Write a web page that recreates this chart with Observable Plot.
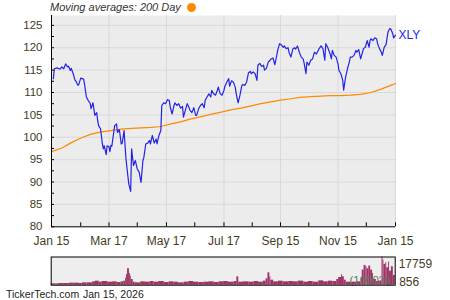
<!DOCTYPE html>
<html>
<head>
<meta charset="utf-8">
<script src="https://cdn.jsdelivr.net/npm/d3@7"></script>
<script src="https://cdn.jsdelivr.net/npm/@observablehq/plot@0.6"></script>
<style>
  html, body { margin: 0; padding: 0; background: #fff; }
  #wrap { position: relative; width: 450px; height: 300px; overflow: hidden; font-family: "Liberation Sans", Arial, sans-serif; }
  #main { position: absolute; left: 0; top: 0; }
  #vol { position: absolute; left: 0; top: 252px; }
  #legend { position: absolute; left: 50px; top: 1px; font-size: 11px; line-height: 13px; font-style: italic; color: #333; white-space: nowrap; }
  #dot { position: absolute; left: 187px; top: 3px; width: 9px; height: 9px; border-radius: 50%; background: #ff8a00; }
  .foot { position: absolute; top: 288px; font-size: 10.5px; line-height: 12px; color: #222; white-space: nowrap; }
</style>
</head>
<body>
<div id="wrap">
  <div id="main"></div>
  <div id="vol"></div>
  <div id="legend"></div>
  <div id="dot"></div>
  <div class="foot" id="site" style="left:6px"></div>
  <div class="foot" id="date" style="left:83px"></div>
</div>
<script>
// ---------------- data ----------------
const ticker = "XLY";
const legendText = "Moving averages: 200 Day";
const siteText = "TickerTech.com";
const dateText = "Jan 15, 2026";
const volUnitText = "(1000's)";
const startDate = "2025-01-15";   // day 0
const endDay = 365;               // Jan 15, 2026

// price (days since start, close)
const priceDays = [
  2,3,6,9,11,13,15,17,18,20,
  21,23,25,26,28,29,31,34,35,37,
  39,41,42,44,46,48,49,50,52,54,
  55,56,58,59,61,62,63,64,67,69,
  70,72,74,75,77,79,81,82,84,85,
  87,89,91,93,95,97,98,100,102,104,
  105,107,109,111,112,114,116,117,119,121,
  123,125,126,128,130,131,133,135,137,139,
  140,142,144,146,147,149,151,153,154,156,
  158,160,162,163,165,167,169,170,172,174,
  176,177,179,181,183,184,186,188,189,191,
  193,195,196,198,200,202,203,205,207,209,
  211,212,214,216,218,219,221,223,225,226,
  228,230,232,233,235,237,239,240,242,244,
  246,247,249,251,252,254,256,258,259,261,
  263,265,267,268,270,271,273,275,277,279,
  281,282,284,286,288,290,291,293,295,297,
  298,300,302,304,305,307,309,310,311,312,
  314,316,317,319,321,323,324,326,328,330,
  331,333,335,337,338,339,341,343,345,346,
  348,350,351,353,354,355,357,359,360,362,
  363,365
];
const priceVals = [
  113.1,115.3,115.5,115.2,115.7,115.3,116.4,115.7,115.9,114.9,
  115.4,114.2,112.7,112.5,111.6,111.8,113.2,113.0,112.0,109.0,
  108.2,107.6,106.4,107.7,104.9,105.5,103.7,102.6,101.9,98.5,
  97.4,98.1,96.1,98.1,97.9,96.8,98.2,98.0,102.6,103.0,
  101.1,101.7,98.5,98.7,101.5,95.2,91.4,89.6,87.9,97.4,
  93.7,94.8,92.9,92.2,89.9,94.8,95.5,98.5,98.7,99.3,
  98.5,100.4,98.7,99.6,98.5,100.4,101.5,107.1,107.7,107.5,
  108.4,108.2,106.7,105.2,107.1,107.7,107.1,107.5,106.5,106.9,
  104.5,106.0,107.5,106.6,106.0,105.5,106.6,104.9,104.9,106.3,
  107.1,107.5,106.6,108.2,109.0,109.7,109.0,110.5,109.7,109.4,
  110.5,111.2,109.7,109.4,110.5,111.4,112.3,113.1,111.4,112.6,
  112.3,111.2,109.7,107.7,109.4,111.6,111.8,111.6,112.3,114.4,
  114.7,114.2,114.6,114.2,112.7,116.1,116.5,115.8,116.1,115.0,
  115.4,116.8,117.2,117.5,117.7,116.2,118.3,119.4,120.9,120.6,
  120.1,120.4,119.8,120.0,119.0,117.9,119.7,120.0,119.7,120.4,
  119.0,117.9,117.5,116.6,114.2,116.8,116.1,117.2,117.5,119.0,
  118.6,119.0,119.8,120.4,119.8,117.2,120.9,120.1,119.0,117.5,
  119.4,118.3,117.9,116.4,114.9,114.2,112.7,110.5,112.0,113.4,
  115.3,116.8,117.9,117.9,118.3,119.4,119.0,119.6,117.5,119.0,
  119.8,120.1,121.6,120.1,121.6,122.0,121.6,122.2,122.0,120.9,
  119.8,119.0,118.3,120.1,120.4,120.7,123.5,124.3,124.2,123.2,
  122.2,122.8
];

// 200-day moving average
const maDays = [0,11,21,32,42,53,63,74,85,95,106,116,127,138,148,159,169,180,190,201,212,222,233,243,254,264,275,286,296,307,317,328,339,349,360,365];
const maVals = [96.8,97.6,98.8,99.9,100.7,101.2,101.5,101.8,102.0,102.1,102.2,102.4,103.0,103.5,104.1,104.6,105.1,105.6,106.1,106.5,107.0,107.5,107.9,108.3,108.6,108.9,109.1,109.2,109.3,109.3,109.4,109.6,110.0,110.7,111.6,112.0];

// volume (thousands)
const volDays = [
  0,5,8,14,19,24,30,33,38,44,
  47,51,54,60,65,70,74,77,79,80,
  81,83,84,85,87,89,95,100,105,109,
  114,120,125,130,135,141,146,151,157,162,
  167,173,178,183,188,194,197,199,204,210,
  215,220,225,228,230,232,233,236,241,246,
  252,257,262,268,273,278,284,289,294,299,
  303,305,308,309,311,313,319,324,329,330,
  332,334,335,337,339,341,342,345,347,349,
  351,352,353,355,356,358,359,361,363
];
const volVals = [
  856,850,1060,1060,1270,1270,1060,1480,1480,2110,
  2540,1900,2330,1900,2110,1690,2110,2540,4440,6760,
  10360,7400,5710,3590,1900,1480,2110,1900,2330,1900,
  2330,1690,2110,1900,1480,1900,2330,1900,1690,1900,
  2110,1690,2110,2330,1900,2330,5290,1900,2110,1900,
  2330,1900,2540,4020,7820,5290,3170,2110,2540,2110,
  2330,2110,2540,1900,2330,1900,2750,2110,2540,2330,
  3590,4860,6550,5290,3170,1900,1900,2110,4650,9510,
  12470,11630,10360,12050,9510,7400,3590,2330,2540,2750,
  17759,15860,13110,14160,10990,14590,8880,11630,6130
];
const volLabels = [17759, 856];

// axes
const xTickDates = ["2025-01-15","2025-02-15","2025-03-17","2025-04-16","2025-05-17","2025-06-16","2025-07-17","2025-08-16","2025-09-15","2025-10-15","2025-11-15","2025-12-15","2026-01-15"];
const xTickLabels = ["Jan 15","","Mar 17","","May 17","","Jul 17","","Sep 15","","Nov 15","","Jan 15"];
const yTicks = [80,82.5,85,87.5,90,92.5,95,97.5,100,102.5,105,107.5,110,112.5,115,117.5,120,122.5,125];
const yTop = 127.2;

// ---------------- build ----------------
const day0 = new Date(startDate + "T00:00:00Z");
const toDate = d => d3.utcDay.offset(day0, d);
const xStart = day0, xEnd = toDate(endDay);

const price = priceDays.map((d, i) => ({date: toDate(d), v: priceVals[i]}));
const ma = maDays.map((d, i) => ({date: toDate(d), v: maVals[i]}));
const vol = volDays.map((d, i) => ({d1: toDate(d), d2: toDate(i + 1 < volDays.length ? volDays[i + 1] : endDay), v: volVals[i]}));
const xTicks = xTickDates.map(s => new Date(s + "T00:00:00Z"));
const labelMap = new Map(xTicks.map((d, i) => [+d, xTickLabels[i]]));
const labeledTicks = xTicks.filter((d, i) => xTickLabels[i] !== "");
const yLabeled = yTicks.filter(d => d % 5 === 0);

const W = 450, H = 250, mT = 15, mB = 23.7, mL = 51, mR = 55;
const plotW = W - mL - mR, plotH = H - mT - mB;
const font = '"Liberation Sans", Arial, sans-serif';

const main = Plot.plot({
  width: W, height: H,
  marginTop: mT, marginBottom: mB, marginLeft: mL, marginRight: mR,
  style: {fontFamily: font, fontSize: "11.5px", color: "#463a1e", background: "transparent", overflow: "visible"},
  x: {type: "utc", domain: [xStart, xEnd], label: null},
  y: {domain: [yTicks[0], yTop], label: null},
  marks: [
    Plot.frame({fill: "#ececec", stroke: "none"}),
    Plot.ruleY(yLabeled.filter(d => d > yTicks[0]), {stroke: "#d9d9d9", strokeWidth: 1}),
    Plot.ruleX(labeledTicks.filter(d => +d !== +xStart), {stroke: "#d9d9d9", strokeWidth: 1}),
    Plot.line(ma, {x: "date", y: "v", stroke: "#ff8a00", strokeWidth: 1.2}),
    Plot.line(price, {x: "date", y: "v", stroke: "#2323e6", strokeWidth: 1.2}),
    Plot.ruleX([xStart], {stroke: "#000", strokeWidth: 1}),
    Plot.ruleY([yTicks[0]], {stroke: "#000", strokeWidth: 1}),
    Plot.tickY(yTicks, {y: d => d, stroke: "#000", insetRight: plotW - 3}),
    Plot.tickX(xTicks, {x: d => d, stroke: "#000", insetTop: plotH - 4}),
    Plot.axisY({ticks: yLabeled, tickSize: 0, tickPadding: 9, tickFormat: d => String(d), label: null, fontSize: 11.5}),
    Plot.axisX({ticks: labeledTicks, tickSize: 0, tickPadding: 10, tickFormat: d => labelMap.get(+d), label: null, fontSize: 12}),
    Plot.text([price[price.length - 1]], {x: "date", y: "v", text: () => ticker, dx: 3, textAnchor: "start", fill: "#2323e6", fontSize: 12})
  ]
});
document.getElementById("main").appendChild(main);

const VH = 36, vT = 4.5, vB = 3.3, vL = 50.7, vR = 55.3;
const volPlot = Plot.plot({
  width: W, height: VH,
  marginTop: vT, marginBottom: vB, marginLeft: vL, marginRight: vR,
  style: {fontFamily: font, fontSize: "12px", color: "#463a1e", background: "transparent", overflow: "visible"},
  x: {type: "utc", domain: [xStart, xEnd], axis: null},
  y: {domain: [0, volLabels[0]], axis: null},
  marks: [
    Plot.frame({fill: "#eeeeee", stroke: "none"}),
    Plot.rectY(vol, {x1: "d1", x2: "d2", y: "v", fill: "#9e3366"}),
    Plot.text([volUnitText], {frameAnchor: "bottom-right", textAnchor: "end", lineAnchor: "bottom", dx: -4.5, dy: -1.6, fill: "#5e7a62", fontSize: 11.5}),
    Plot.frame({stroke: "#000", strokeWidth: 1}),
    Plot.text([volLabels[0]], {y: d => d, text: d => String(d), frameAnchor: "right", textAnchor: "start", lineAnchor: "top", dx: 3.5, dy: 2}),
    Plot.text([volLabels[1]], {y: d => d, text: d => String(d), frameAnchor: "right", textAnchor: "start", lineAnchor: "bottom", dx: 4, dy: 2})
  ]
});
document.getElementById("vol").appendChild(volPlot);

document.getElementById("legend").textContent = legendText;
document.getElementById("site").textContent = siteText;
document.getElementById("date").textContent = dateText;
</script>
</body>
</html>
